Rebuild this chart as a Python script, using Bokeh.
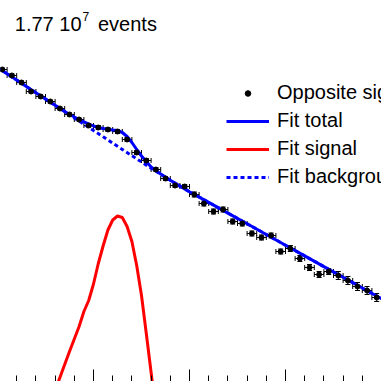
from bokeh.plotting import figure
from bokeh.models import (Range1d, ColumnDataSource, Whisker, TeeHead, SingleIntervalTicker,
                          Legend, LegendItem, Label, CustomLabelingPolicy)
from bokeh.embed import file_html
from bokeh.resources import INLINE

# ---- data (x: mass-like variable, y: log10 of entries per bin) ----
bin_centers = [0.05, 0.15, 0.25, 0.35, 0.45, 0.55, 0.65, 0.75, 0.85, 0.95,
               1.05, 1.15, 1.25, 1.35, 1.45, 1.55, 1.65, 1.75, 1.85, 1.95,
               2.05, 2.15, 2.25, 2.35, 2.45, 2.55, 2.65, 2.75, 2.85, 2.95,
               3.05, 3.15, 3.25, 3.35, 3.45, 3.55, 3.65, 3.75, 3.85, 3.95]
bin_half_width = 0.05
data_vals = [7.12, 7.06, 6.99, 6.90, 6.85, 6.80, 6.73, 6.67, 6.62, 6.56,
             6.54, 6.52, 6.50, 6.42, 6.29, 6.21, 6.12, 6.03, 5.96, 5.95,
             5.87, 5.78, 5.70, 5.72, 5.60, 5.58, 5.48, 5.44, 5.46, 5.30,
             5.33, 5.23, 5.14, 5.07, 5.10, 5.06, 5.01, 4.95, 4.91, 4.84]
data_errs = [0.015, 0.015, 0.015, 0.015, 0.015, 0.015, 0.015, 0.015, 0.015, 0.015,
             0.02, 0.02, 0.02, 0.02, 0.02, 0.02, 0.02, 0.02, 0.02, 0.02,
             0.025, 0.025, 0.025, 0.025, 0.025, 0.025, 0.025, 0.025, 0.025, 0.025,
             0.03, 0.03, 0.03, 0.03, 0.03, 0.04, 0.04, 0.04, 0.04, 0.04]

total_x = [0.0, 0.1, 0.2, 0.3, 0.4, 0.5, 0.6, 0.7, 0.8, 0.9, 1.0, 1.05, 1.1, 1.15, 1.2, 1.25,
           1.3, 1.35, 1.4, 1.45, 1.5, 1.55, 1.6, 1.7, 1.8, 1.9, 2.0, 2.2, 2.4, 2.6, 2.8,
           3.0, 3.2, 3.4, 3.6, 3.8, 4.0]
total_y = [7.14, 7.077, 7.014, 6.951, 6.888, 6.825, 6.762, 6.699, 6.645, 6.597, 6.555, 6.54, 6.53,
           6.522, 6.515, 6.51, 6.49, 6.45, 6.39, 6.32, 6.255, 6.20, 6.145, 6.075, 6.013,
           5.954, 5.898, 5.791, 5.684, 5.577, 5.47, 5.363, 5.256, 5.149, 5.042, 4.935, 4.828]

signal_x = [0.60, 0.65, 0.70, 0.75, 0.80, 0.85, 0.90, 0.95, 1.00, 1.05, 1.10, 1.15, 1.20,
            1.25, 1.30, 1.35, 1.40, 1.45, 1.50, 1.55, 1.60, 1.65]
signal_y = [3.91, 4.04, 4.17, 4.30, 4.425, 4.55, 4.70, 4.81, 4.975, 5.18, 5.355, 5.515, 5.615,
            5.655, 5.64, 5.55, 5.40, 5.16, 4.86, 4.48, 4.09, 3.70]

bkg_x = [0.0, 0.1, 0.2, 0.3, 0.4, 0.5, 0.6, 0.7, 0.8, 0.9, 1.0, 1.1, 1.2, 1.3, 1.4, 1.5, 1.6,
         1.7, 1.8, 1.9, 2.0, 2.2, 2.4, 2.6, 2.8, 3.0, 3.2, 3.4, 3.6, 3.8, 4.0]
bkg_y = [7.14, 7.077, 7.014, 6.951, 6.888, 6.825, 6.762, 6.699, 6.636, 6.573, 6.51, 6.447, 6.384,
         6.321, 6.258, 6.195, 6.133, 6.072, 6.012, 5.954, 5.898, 5.791, 5.684, 5.577, 5.47,
         5.363, 5.256, 5.149, 5.042, 4.935, 4.828]

n_events_text = "1.77 10"
n_events_exp = "7"
legend_labels = ["Opposite sign", "Fit total", "Fit signal", "Fit background"]

FONT = "Liberation Sans"
BLUE = "#0000ff"
RED = "#ff0000"

p = figure(width=381, height=381, x_range=Range1d(0.03125, 4.0), y_range=Range1d(4.0, 7.81),
           output_backend="svg", toolbar_location=None, min_border=0)
p.yaxis.visible = False
p.grid.visible = False
p.outline_line_color = None
p.background_fill_color = "white"
p.border_fill_color = "white"

ax = p.xaxis[0]
ax.ticker = SingleIntervalTicker(interval=1, num_minor_ticks=5)
ax.major_tick_in = 12
ax.major_tick_out = 0
ax.minor_tick_in = 6
ax.minor_tick_out = 0
ax.axis_line_color = None
ax.major_label_text_font_size = "0px"
ax.major_label_standoff = 0
ax.major_label_policy = CustomLabelingPolicy(code="return new Set()")
ax.major_tick_line_color = "black"
ax.minor_tick_line_color = "black"

src = ColumnDataSource(dict(
    x=bin_centers, y=data_vals,
    xlo=[c - bin_half_width for c in bin_centers], xhi=[c + bin_half_width for c in bin_centers],
    ylo=[v - e for v, e in zip(data_vals, data_errs)], yhi=[v + e for v, e in zip(data_vals, data_errs)],
))

r_bkg = p.line(bkg_x, bkg_y, line_color=BLUE, line_width=3, line_dash="4 3")
r_sig = p.line(signal_x, signal_y, line_color=RED, line_width=3)
r_tot = p.line(total_x, total_y, line_color=BLUE, line_width=3)

wx = Whisker(source=src, base="y", lower="xlo", upper="xhi", dimension="width",
             line_color="black", line_width=1,
             lower_head=TeeHead(size=5, line_color="black", line_width=1),
             upper_head=TeeHead(size=5, line_color="black", line_width=1))
wy = Whisker(source=src, base="x", lower="ylo", upper="yhi", dimension="height",
             line_color="black", line_width=1,
             lower_head=TeeHead(size=5, line_color="black", line_width=1),
             upper_head=TeeHead(size=5, line_color="black", line_width=1))
p.add_layout(wx)
p.add_layout(wy)
r_data = p.scatter("x", "y", source=src, size=5, fill_color="black", line_color="black")

legend = Legend(items=[
    LegendItem(label=legend_labels[0], renderers=[r_data]),
    LegendItem(label=legend_labels[1], renderers=[r_tot]),
    LegendItem(label=legend_labels[2], renderers=[r_sig]),
    LegendItem(label=legend_labels[3], renderers=[r_bkg]),
], location=(226, 193), orientation="vertical",
    glyph_width=43, glyph_height=14, label_height=21, spacing=5, padding=0, margin=0,
    label_standoff=8, label_text_font=FONT, label_text_font_size="20px",
    label_text_color="black", border_line_color=None, background_fill_alpha=0)
p.add_layout(legend, "center")

p.add_layout(Label(x=14.3, y=358.0, x_units="screen", y_units="screen", text=n_events_text,
                   text_font=FONT, text_font_size="20px", text_color="black",
                   text_baseline="alphabetic"))
p.add_layout(Label(x=82.0, y=364.8, x_units="screen", y_units="screen", text=n_events_exp,
                   text_font=FONT, text_font_size="12px", text_color="black",
                   text_baseline="alphabetic"))
p.add_layout(Label(x=97.5, y=358.0, x_units="screen", y_units="screen", text="events",
                   text_font=FONT, text_font_size="20px", text_color="black",
                   text_baseline="alphabetic"))

open("out.html", "w").write(file_html(p, INLINE))
